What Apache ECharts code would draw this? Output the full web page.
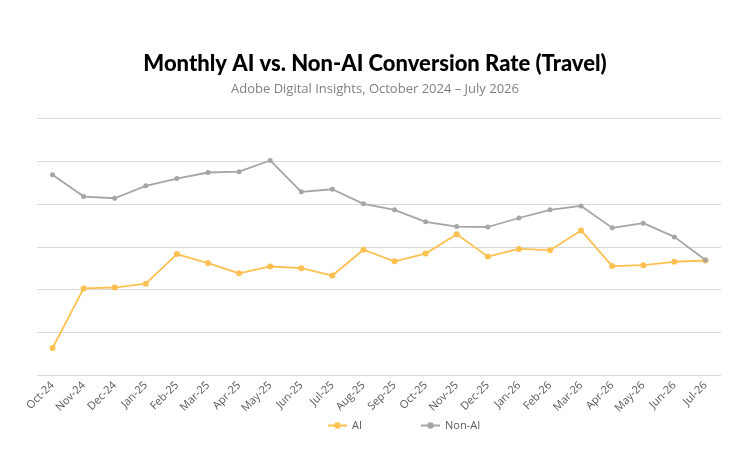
<!DOCTYPE html>
<html><head><meta charset="utf-8">
<script src="https://cdn.jsdelivr.net/npm/echarts@6/dist/echarts.min.js"></script>
<style>html,body{margin:0;padding:0;background:#fff}#c{width:750px;height:469px}</style>
</head><body><div id="c"></div>
<script>
const categories = ['Oct-24','Nov-24','Dec-24','Jan-25','Feb-25','Mar-25','Apr-25','May-25','Jun-25','Jul-25','Aug-25','Sep-25','Oct-25','Nov-25','Dec-25','Jan-26','Feb-26','Mar-26','Apr-26','May-26','Jun-26','Jul-26'];
const aiValues = [0.64,2.03,2.05,2.14,2.83,2.62,2.38,2.54,2.50,2.33,2.93,2.66,2.84,3.29,2.77,2.95,2.92,3.38,2.55,2.57,2.65,2.68];
const nonAiValues = [4.68,4.17,4.13,4.42,4.59,4.73,4.75,5.01,4.28,4.34,4.00,3.86,3.58,3.47,3.46,3.67,3.86,3.95,3.44,3.55,3.23,2.69];

const chart = echarts.init(document.getElementById('c'));
chart.setOption({
  backgroundColor:'#fff',
  animation:false,
  title:[{
    text:'Monthly AI vs. Non-AI Conversion Rate (Travel)',
    left:'center', top:48,
    textStyle:{fontFamily:'Lato', fontWeight:900, fontSize:22, color:'#000'}
  },{
    text:'Adobe Digital Insights, October 2024 – July 2026',
    left:'center', top:78,
    textStyle:{fontFamily:'Open Sans', fontWeight:'normal', fontSize:13, color:'#7f7f7f'}
  }],
  legend:{
    top:415, left:322, itemGap:58, itemWidth:19, itemHeight:8,
    textStyle:{fontFamily:'Open Sans', fontSize:11, color:'#595959'},
    data:['AI','Non-AI']
  },
  grid:{left:37, right:29, top:118, height:257.5, containLabel:false},
  xAxis:{
    type:'category', data:categories, boundaryGap:true,
    axisLine:{show:false}, axisTick:{show:false},
    axisLabel:{rotate:45, interval:0, fontFamily:'Open Sans', fontSize:11, color:'#595959', margin:8}
  },
  yAxis:{
    type:'value', min:0, max:6, interval:1,
    axisLabel:{show:false}, axisLine:{show:false}, axisTick:{show:false},
    splitLine:{lineStyle:{color:'#d9d9d9', width:1.2}}
  },
  series:[{
    name:'AI', type:'line', data:aiValues,
    symbol:'circle', symbolSize:6,
    itemStyle:{color:'#FFC052'}, lineStyle:{color:'#FFC052', width:1.8}
  },{
    name:'Non-AI', type:'line', data:nonAiValues,
    symbol:'circle', symbolSize:5,
    itemStyle:{color:'#A5A5A5'}, lineStyle:{color:'#A5A5A5', width:1.8}
  }]
});
</script></body></html>
